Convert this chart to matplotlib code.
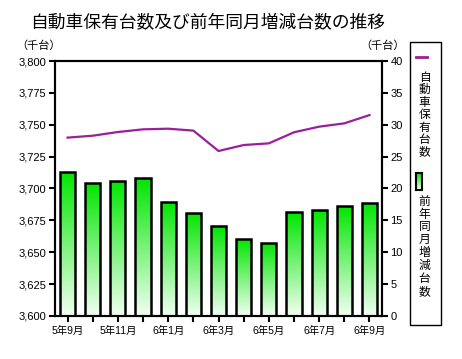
import numpy as np
import matplotlib
matplotlib.use("Agg")
import matplotlib.pyplot as plt
from matplotlib.patches import Rectangle
from matplotlib.colors import LinearSegmentedColormap

plt.rcParams['font.family'] = ['Liberation Sans', 'Noto Sans CJK JP']

months = ["5年9月", "5年10月", "5年11月", "5年12月", "6年1月", "6年2月", "6年3月",
          "6年4月", "6年5月", "6年6月", "6年7月", "6年8月", "6年9月"]
holdings = [3739.9, 3741.4, 3744.3, 3746.4, 3746.9, 3745.4, 3729.4,
            3734.1, 3735.4, 3744.1, 3748.5, 3751.1, 3757.6]
yoy_change = [22.6, 20.9, 21.2, 21.6, 17.9, 16.2, 14.1, 12.1, 11.5, 16.3, 16.6, 17.3, 17.7]

LINE_COLOR = "#9a1f9a"
green_cmap = LinearSegmentedColormap.from_list("g", ["#f2fff2", "#00e600"])

fig = plt.figure(figsize=(4.62, 3.59), dpi=100)
ax = fig.add_axes([0.119, 0.12, 0.708, 0.71])
ax2 = ax.twinx()
ax.set_zorder(ax2.get_zorder() + 1)
ax.patch.set_visible(False)

x = np.arange(len(months))

# bars with vertical gradient
bars = ax2.bar(x, yoy_change, width=0.6, facecolor="none", edgecolor="black", linewidth=1.8, zorder=3)
grad = np.linspace(0, 1, 256).reshape(-1, 1)
for b in bars:
    im = ax2.imshow(grad, cmap=green_cmap, origin="lower", aspect="auto",
                    extent=[b.get_x(), b.get_x() + b.get_width(), 0, b.get_height()], zorder=2)
    im.set_clip_path(b)
ax2.set_ylim(0, 40)
ax2.set_yticks(range(0, 41, 5))

ax.plot(x, holdings, color=LINE_COLOR, linewidth=1.6, zorder=4)
ax.set_ylim(3600, 3800)
ax.set_yticks(range(3600, 3801, 25))
ax.set_yticklabels([f"{v:,}" for v in range(3600, 3801, 25)])
ax.set_xlim(-0.5, len(months) - 0.5)
ax2.set_xlim(-0.5, len(months) - 0.5)

ax.set_xticks(x)
ax.set_xticklabels([m if i % 2 == 0 else "" for i, m in enumerate(months)])

for a in (ax, ax2):
    for s in a.spines.values():
        s.set_linewidth(1.5)
    a.tick_params(labelsize=8, width=1.5, length=4, colors="black", pad=2)
ax.tick_params(axis="x", labelsize=7.5, pad=3)

fig.text(0.065, 0.935, "自動車保有台数及び前年同月増減台数の推移", fontsize=12.8, ha="left", va="center")
fig.text(0.035, 0.873, "（千台）", fontsize=8, ha="left", va="center")
fig.text(0.78, 0.873, "（千台）", fontsize=8, ha="left", va="center")

# legend box drawn by hand (vertical text)
fig.patches.append(Rectangle((0.888, 0.094), 0.066, 0.789, transform=fig.transFigure,
                             facecolor="white", edgecolor="black", linewidth=1.0, zorder=0))
fig.lines.append(plt.Line2D([0.901, 0.925], [0.841, 0.841], transform=fig.transFigure,
                            color=LINE_COLOR, linewidth=2))
fig.text(0.919, 0.80, "\n".join("自動車保有台数"), fontsize=8.5, ha="center", va="top", linespacing=1.05)
lax = fig.add_axes([0.901, 0.471, 0.013, 0.047])
lax.set_zorder(10)
lax.imshow(grad, cmap=green_cmap, origin="lower", aspect="auto", extent=[0, 1, 0, 1])
lax.set_xticks([])
lax.set_yticks([])
for s in lax.spines.values():
    s.set_linewidth(1.5)
fig.text(0.919, 0.455, "\n".join("前年同月増減台数"), fontsize=8.5, ha="center", va="top", linespacing=1.1)

fig.savefig("out.png", dpi=100)
